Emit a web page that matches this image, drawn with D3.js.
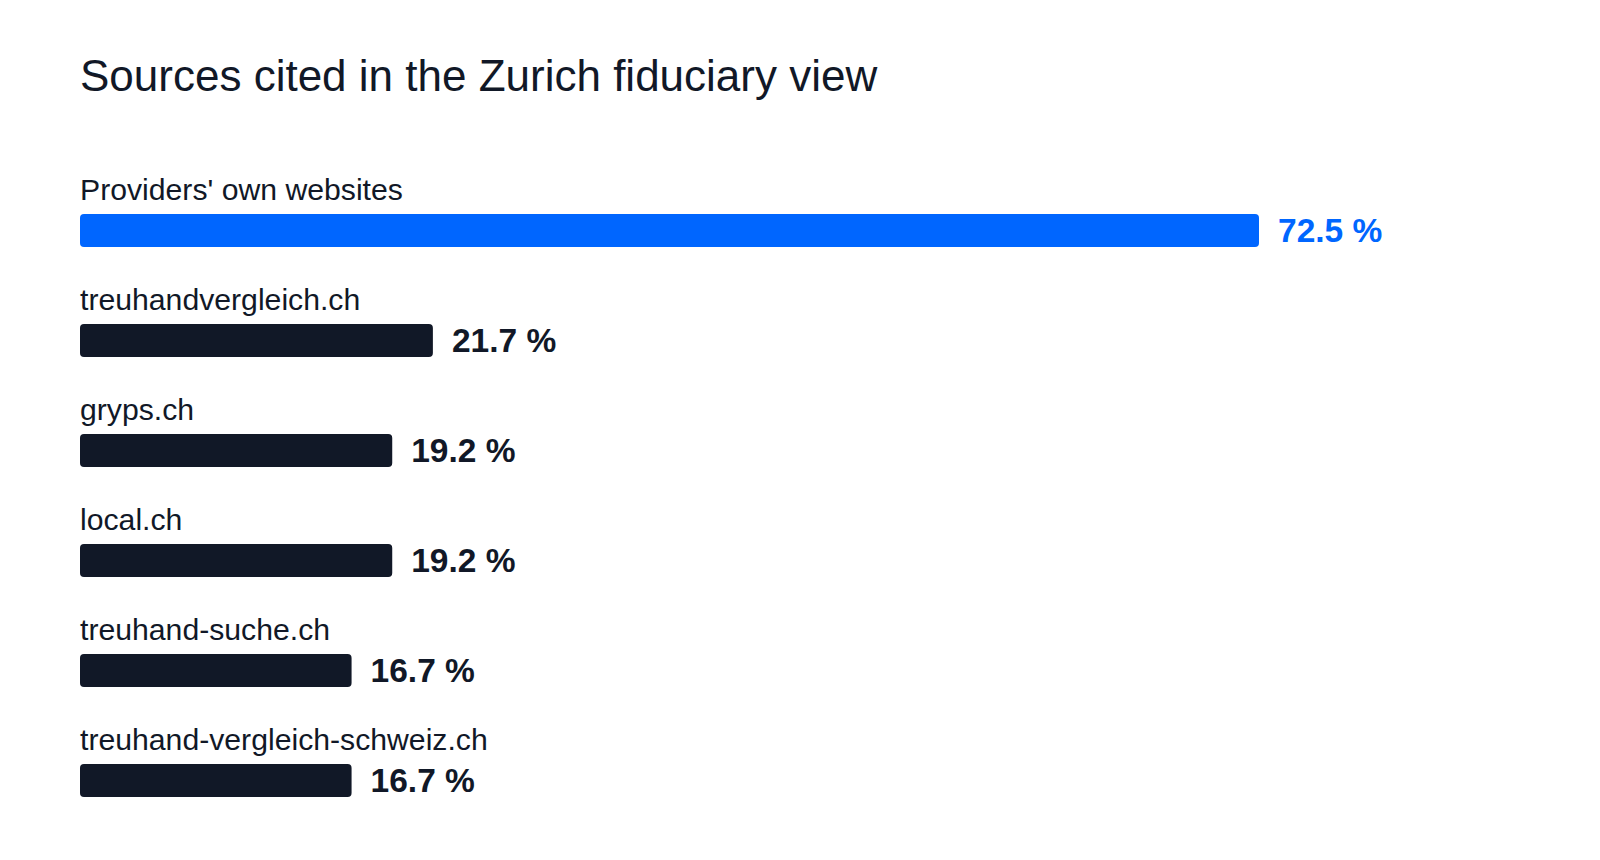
<!DOCTYPE html>
<html>
<head>
<meta charset="utf-8">
<script src="https://cdn.jsdelivr.net/npm/d3@7"></script>
<style>
  html, body { margin: 0; padding: 0; background: #fff; }
  svg { display: block; }
</style>
</head>
<body>
<div id="chart"></div>
<script>
const title = "Sources cited in the Zurich fiduciary view";
const categories = ["Providers' own websites", "treuhandvergleich.ch", "gryps.ch", "local.ch", "treuhand-suche.ch", "treuhand-vergleich-schweiz.ch"];
const values = [72.5, 21.7, 19.2, 19.2, 16.7, 16.7];
const highlighted = ["Providers' own websites"];

const width = 1600;
const height = 860;
const margin = { left: 80, top: 170 };
const rowStep = 110;
const barHeight = 33;
const barOffset = 44;   // bar top below row top
const maxBarWidth = 1179;

const dark = '#111827';
const blue = '#0066ff';
const font = "'Liberation Sans', Arial, Helvetica, sans-serif";

const data = categories.map((c, i) => ({ name: c, value: values[i] }));

const svg = d3.select('#chart')
  .append('svg')
  .attr('width', width)
  .attr('height', height)
  .attr('font-family', font);

svg.append('text')
  .attr('x', margin.left)
  .attr('y', 91)
  .attr('font-size', 44)
  .attr('fill', dark)
  .text(title);

const x = d3.scaleLinear()
  .domain([0, d3.max(values)])
  .range([0, maxBarWidth]);

const y = d3.scaleBand()
  .domain(categories)
  .range([margin.top, margin.top + rowStep * categories.length])
  .padding(0);

const rows = svg.selectAll('.row')
  .data(data)
  .join('g')
  .attr('class', 'row')
  .attr('transform', d => `translate(${margin.left},${y(d.name)})`);

rows.append('text')
  .attr('class', 'catLabel')
  .attr('x', 0)
  .attr('y', 30)
  .attr('font-size', 30.2)
  .attr('fill', dark)
  .text(d => d.name);

rows.append('rect')
  .attr('class', 'bar')
  .attr('x', 0)
  .attr('y', barOffset)
  .attr('width', d => x(d.value))
  .attr('height', barHeight)
  .attr('rx', 4)
  .attr('fill', d => highlighted.includes(d.name) ? blue : dark);

rows.append('text')
  .attr('class', 'valueLabel')
  .attr('x', d => x(d.value) + 19)
  .attr('y', barOffset + 28)
  .attr('font-size', 33.5)
  .attr('font-weight', 'bold')
  .attr('fill', d => highlighted.includes(d.name) ? blue : dark)
  .text(d => d3.format('.1f')(d.value) + ' %');
</script>
</body>
</html>
